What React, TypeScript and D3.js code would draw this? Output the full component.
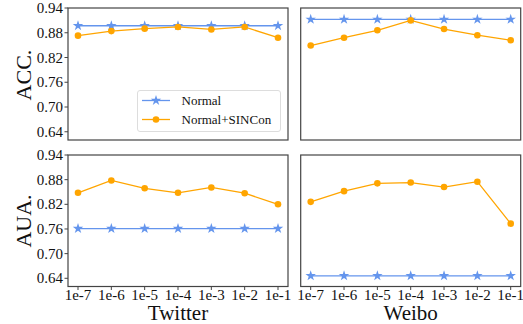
import React from 'react';
import * as d3 from 'd3';

const xLabels = ['1e-7', '1e-6', '1e-5', '1e-4', '1e-3', '1e-2', '1e-1'];
const yTicks = [0.64, 0.70, 0.76, 0.82, 0.88, 0.94];

const twitterAccNormal = [0.897, 0.897, 0.897, 0.897, 0.897, 0.897, 0.897];
const twitterAccSincon = [0.873, 0.884, 0.890, 0.894, 0.888, 0.894, 0.868];
const weiboAccNormal = [0.9125, 0.9125, 0.9125, 0.9125, 0.9125, 0.9125, 0.9125];
const weiboAccSincon = [0.849, 0.868, 0.886, 0.910, 0.889, 0.874, 0.862];

const twitterAuaNormal = [0.761, 0.761, 0.761, 0.761, 0.761, 0.761, 0.761];
const twitterAuaSincon = [0.848, 0.878, 0.859, 0.848, 0.861, 0.847, 0.820];
const weiboAuaNormal = [0.646, 0.646, 0.646, 0.646, 0.646, 0.646, 0.646];
const weiboAuaSincon = [0.826, 0.852, 0.871, 0.873, 0.862, 0.875, 0.773];

const blue = '#6495ED';
const orange = '#FFA500';
const spine = '#444';
const font = '"Liberation Serif", "DejaVu Serif", serif';

const cols = [[68, 288], [300.7, 520.7]];
const rows = [[8, 140], [155, 286.5]];

const starPath = d3.symbol().type(d3.symbolStar).size(34)();

function Panel({ col, row, normal, sincon, showY, showX }) {
  const [x0, x1] = cols[col];
  const [y0, y1] = rows[row];
  const x = d3.scaleLinear().domain([-0.3, 6.3]).range([x0, x1]);
  const y = d3.scaleLinear().domain([0.62, 0.94]).range([y1, y0]);
  const line = d3.line<number>().x((_, i) => x(i)).y(d => y(d));
  return (
    <g>
      {showY && yTicks.map(t => (
        <g key={t}>
          <line x1={x0 - 3.5} x2={x0} y1={y(t)} y2={y(t)} stroke={spine} strokeWidth={1} />
          <text x={x0 - 5} y={y(t)} dy="0.34em" textAnchor="end" fontSize={15} fontFamily={font} fill="#111">
            {t.toFixed(2)}
          </text>
        </g>
      ))}
      {showX && xLabels.map((l, i) => (
        <g key={l}>
          <line x1={x(i)} x2={x(i)} y1={y1} y2={y1 + 3.5} stroke={spine} strokeWidth={1} />
          <text x={x(i)} y={y1 + 13.5} textAnchor="middle" fontSize={15} fontFamily={font} fill="#111">
            {l}
          </text>
        </g>
      ))}
      <path d={line(normal) || ''} fill="none" stroke={blue} strokeWidth={1.3} />
      {normal.map((v, i) => (
        <path key={i} d={starPath} transform={`translate(${x(i)},${y(v)})`} fill={blue} />
      ))}
      <path d={line(sincon) || ''} fill="none" stroke={orange} strokeWidth={1.3} />
      {sincon.map((v, i) => (
        <circle key={i} cx={x(i)} cy={y(v)} r={3.3} fill={orange} />
      ))}
      <rect x={x0} y={y0} width={x1 - x0} height={y1 - y0} fill="none" stroke={spine} strokeWidth={1.2} />
    </g>
  );
}

export default function App() {
  const lx = 137.5;
  const ly = 90.5;
  return (
    <svg width={523} height={324} style={{ position: 'absolute', left: 0, top: 0, background: '#fff' }}>
      <Panel col={0} row={0} normal={twitterAccNormal} sincon={twitterAccSincon} showY showX={false} />
      <Panel col={1} row={0} normal={weiboAccNormal} sincon={weiboAccSincon} showY={false} showX={false} />
      <Panel col={0} row={1} normal={twitterAuaNormal} sincon={twitterAuaSincon} showY showX />
      <Panel col={1} row={1} normal={weiboAuaNormal} sincon={weiboAuaSincon} showY={false} showX />

      <text transform={`translate(30.5,75) rotate(-90)`} textAnchor="middle" fontSize={22} fontFamily={font} fill="#111">ACC.</text>
      <text transform={`translate(30.5,221) rotate(-90)`} textAnchor="middle" fontSize={22} fontFamily={font} fill="#111">AUA.</text>
      <text x={178} y={319.5} textAnchor="middle" fontSize={21} fontFamily={font} fill="#111">Twitter</text>
      <text x={410.7} y={319.5} textAnchor="middle" fontSize={21} fontFamily={font} fill="#111">Weibo</text>

      {/* legend */}
      <rect x={lx} y={ly} width={143} height={41} rx={2.5} fill="#fff" fillOpacity={0.8} stroke="#ddd" strokeWidth={1} />
      <line x1={lx + 4.5} x2={lx + 32.5} y1={ly + 10} y2={ly + 10} stroke={blue} strokeWidth={1.3} />
      <path d={starPath} transform={`translate(${lx + 18.5},${ly + 10})`} fill={blue} />
      <text x={lx + 44} y={ly + 10} dy="0.34em" fontSize={13} fontFamily={font} fill="#111">Normal</text>
      <line x1={lx + 4.5} x2={lx + 32.5} y1={ly + 29} y2={ly + 29} stroke={orange} strokeWidth={1.3} />
      <circle cx={lx + 18.5} cy={ly + 29} r={3.3} fill={orange} />
      <text x={lx + 44} y={ly + 29} dy="0.34em" fontSize={13} fontFamily={font} fill="#111">Normal+SINCon</text>
    </svg>
  );
}
